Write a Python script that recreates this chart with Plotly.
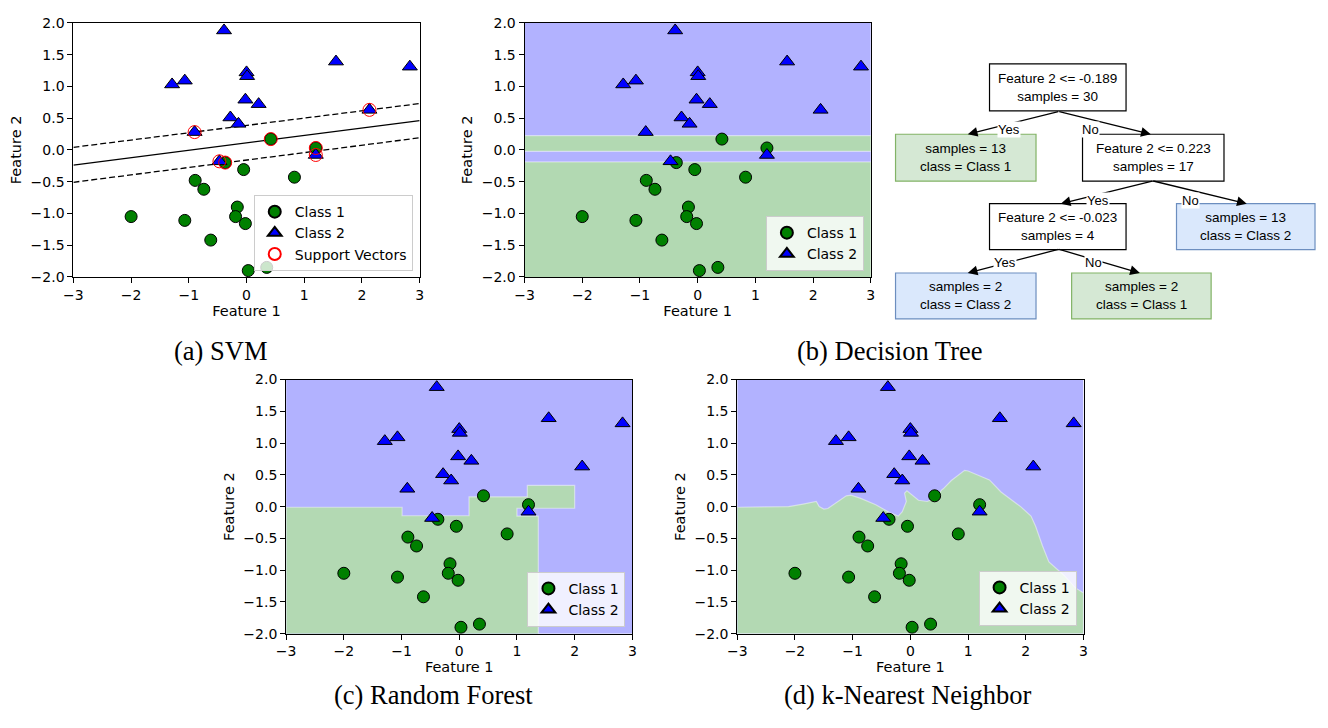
import plotly.graph_objects as go

# the page keeps 8px around the figure; this size fits the 1328x728 window
OFF = 8
W, H = 1312, 704

# ---------------- data ----------------
class1_x = [-2.00, -1.07, -0.89, -0.74, -0.62, -0.37, -0.05, -0.16, -0.19, -0.02, 0.03, 0.35, 0.42, 0.83, 1.20]
class1_y = [-1.05, -1.11, -0.48, -0.62, -1.42, -0.20, -0.31, -0.90, -1.05, -1.16, -1.90, -1.85, 0.17, -0.43, 0.03]

class2_x = [-1.29, -1.07, -0.39, -0.90, -0.28, -0.14, -0.02, 0.21, 0.00, 0.01, 1.55, 2.83, 2.13, -0.47, 1.20]
class2_y = [1.03, 1.09, 1.88, 0.28, 0.51, 0.41, 0.79, 0.72, 1.22, 1.16, 1.39, 1.31, 0.63, -0.18, -0.08]

sv_x = [-0.90, -0.47, -0.37, 0.42, 1.20, 1.20, 2.13]
sv_y = [0.28, -0.18, -0.20, 0.17, 0.03, -0.08, 0.63]

svm_line_x = [-3.0, 3.0]
svm_decision_y = [-0.24, 0.46]
svm_upper_y = [0.04, 0.73]
svm_lower_y = [-0.51, 0.19]

tree_thresholds = [-0.189, 0.223, -0.023]

rf_boundary_x = [-3.0, -3.0, -0.99, -0.99, 0.17, 0.17, 1.18, 1.18, 2.00, 2.00, 1.00, 1.00, 1.37, 1.37]
rf_boundary_y = [-2.0, -0.01, -0.01, -0.144, -0.144, 0.154, 0.154, 0.333, 0.333, -0.026, -0.026, -0.15, -0.15, -2.0]

knn_boundary_x = [-3.00, -2.11, -1.86, -1.63, -1.58, -1.50, -1.43, -1.29, -1.11, -1.03, -0.86, -0.60, -0.37,
                  -0.21, -0.14, -0.07, -0.10, -0.06, 0.03, 0.14, 0.29, 0.43, 0.54, 0.57, 0.71, 0.94, 1.00,
                  1.37, 1.57, 1.91, 2.09, 2.17, 2.29, 2.40, 2.66, 2.86, 3.00, 3.00, -3.00]
knn_boundary_y = [-0.01, 0.00, 0.04, 0.08, 0.00, -0.04, -0.03, 0.06, 0.17, 0.18, 0.13, 0.03, -0.09,
                  -0.15, -0.08, 0.08, 0.21, 0.25, 0.18, 0.10, 0.08, 0.13, 0.26, 0.28, 0.41, 0.57, 0.56,
                  0.42, 0.23, 0.00, -0.15, -0.31, -0.62, -0.87, -1.08, -1.28, -1.36, -2.00, -2.00]

tree_node_text = [
    "Feature 2 <= -0.189<br>samples = 30",
    "samples = 13<br>class = Class 1",
    "Feature 2 <= 0.223<br>samples = 17",
    "Feature 2 <= -0.023<br>samples = 4",
    "samples = 13<br>class = Class 2",
    "samples = 2<br>class = Class 2",
    "samples = 2<br>class = Class 1",
]
tree_node_kind = ["split", "class1", "split", "split", "class2", "class2", "class1"]
tree_edge_labels = ["Yes", "No", "Yes", "No", "Yes", "No"]

captions = ["(a) SVM", "(b) Decision Tree", "(c) Random Forest", "(d) k-Nearest Neighbor"]

# ---------------- layout helpers (window pixel -> paper) ----------------
def px(x):
    return (x - OFF) / W

def py(y):
    return 1 - (y - OFF) / H

BLUE_BG = "rgba(0,0,255,0.3)"
GREEN_BG = "rgba(0,128,0,0.3)"
EDGE = "rgba(255,255,255,0.45)"
FONT = "DejaVu Sans"

panels = {
    "a": (64, 414, 15, 275),
    "b": (520, 870, 15, 275),
    "c": (279, 629, 380, 640),
    "d": (735, 1085, 380, 640),
}
axis_ids = {"a": ("x", "y", ""), "b": ("x2", "y2", "2"), "c": ("x3", "y3", "3"), "d": ("x4", "y4", "4")}
legend_ids = {"a": "legend", "b": "legend2", "c": "legend3", "d": "legend4"}

fig = go.Figure()

def add_points(key, show_sv=False):
    xa, ya, _ = axis_ids[key]
    lg = legend_ids[key]
    fig.add_trace(go.Scatter(x=class1_x, y=class1_y, mode="markers", name="Class 1",
                             xaxis=xa, yaxis=ya, legend=lg,
                             marker=dict(symbol="circle", size=12, color="green",
                                         line=dict(color="black", width=1))))
    fig.add_trace(go.Scatter(x=class2_x, y=class2_y, mode="markers", name="Class 2",
                             xaxis=xa, yaxis=ya, legend=lg,
                             marker=dict(symbol="triangle-up", size=13, color="blue",
                                         line=dict(color="black", width=1))))
    if show_sv:
        fig.add_trace(go.Scatter(x=sv_x, y=sv_y, mode="markers", name="Support Vectors",
                                 xaxis=xa, yaxis=ya, legend=lg,
                                 marker=dict(symbol="circle-open", size=13, color="red",
                                             line=dict(color="red", width=1))))

# (a) SVM lines
for yy, dash in [(svm_upper_y, "6px,3px"), (svm_decision_y, "solid"), (svm_lower_y, "6px,3px")]:
    fig.add_trace(go.Scatter(x=svm_line_x, y=yy, mode="lines", showlegend=False, hoverinfo="skip",
                             xaxis="x", yaxis="y", line=dict(color="black", width=1.3, dash=dash)))
add_points("a", show_sv=True)

# (b) decision tree regions
t_root, t_right, t_mid = tree_thresholds
bands = [(t_right, 2.0, BLUE_BG), (t_mid, t_right, GREEN_BG), (t_root, t_mid, BLUE_BG), (-2.0, t_root, GREEN_BG)]
shapes = []
for y0, y1, col in bands:
    shapes.append(dict(type="rect", xref="x2", yref="y2", x0=-3, x1=3, y0=y0, y1=y1,
                       fillcolor=col, line=dict(width=0), layer="below"))
for t in tree_thresholds:
    shapes.append(dict(type="line", xref="x2", yref="y2", x0=-3, x1=3, y0=t, y1=t,
                       line=dict(color=EDGE, width=1.2), layer="below"))
add_points("b")

# (c) random forest regions
shapes.append(dict(type="rect", xref="x3", yref="y3", x0=-3, x1=3, y0=-2, y1=2,
                   fillcolor=BLUE_BG, line=dict(width=0), layer="below"))
fig.add_trace(go.Scatter(x=rf_boundary_x, y=rf_boundary_y, mode="lines", fill="toself",
                         fillcolor="rgb(179,217,179)", line=dict(color=EDGE, width=1.2),
                         showlegend=False, hoverinfo="skip", xaxis="x3", yaxis="y3"))
add_points("c")

# (d) kNN regions
shapes.append(dict(type="rect", xref="x4", yref="y4", x0=-3, x1=3, y0=-2, y1=2,
                   fillcolor=BLUE_BG, line=dict(width=0), layer="below"))
fig.add_trace(go.Scatter(x=knn_boundary_x, y=knn_boundary_y, mode="lines", fill="toself",
                         fillcolor="rgb(179,217,179)", line=dict(color=EDGE, width=1.2),
                         showlegend=False, hoverinfo="skip", xaxis="x4", yaxis="y4"))
add_points("d")

# axes
layout_axes = {}
for key, (l, r, t, b) in panels.items():
    _, _, suf = axis_ids[key]
    common = dict(showline=True, mirror=True, linecolor="black", linewidth=1, ticks="outside",
                  ticklen=5, tickwidth=1, tickcolor="black", showgrid=False, zeroline=False,
                  tickfont=dict(family=FONT, size=14, color="black"))
    layout_axes["xaxis" + suf] = dict(common, domain=[px(l), px(r)], range=[-3, 3], dtick=1, tick0=0,
                                      anchor="y" + suf,
                                      title=dict(text="Feature 1", standoff=2,
                                                 font=dict(family=FONT, size=14.5, color="black")))
    layout_axes["yaxis" + suf] = dict(common, domain=[py(b), py(t)], range=[-2, 2], dtick=0.5, tick0=0,
                                      tickformat=".1f", anchor="x" + suf,
                                      title=dict(text="Feature 2", standoff=5,
                                                 font=dict(family=FONT, size=14.5, color="black")))

# legends
legend_common = dict(bgcolor="rgba(255,255,255,0.8)", bordercolor="#cccccc", borderwidth=1,
                     font=dict(family=FONT, size=14, color="black"), xanchor="right",
                     yanchor="bottom", tracegroupgap=0, itemsizing="constant")
legends = {
    "legend": dict(legend_common, x=px(407), y=py(269)),
    "legend2": dict(legend_common, x=px(863), y=py(269)),
    "legend3": dict(legend_common, x=px(622), y=py(633)),
    "legend4": dict(legend_common, x=px(1078), y=py(632)),
}

# ---------------- decision tree diagram ----------------
node_boxes = [  # left, right, top, bottom (window px)
    (990, 1128, 57, 105),
    (895, 1037, 129, 177),
    (1084, 1227, 129, 177),
    (990, 1128, 200, 247),
    (1179, 1319, 200, 247),
    (895, 1037, 271, 318),
    (1073, 1214, 271, 318),
]
kind_style = {
    "split": ("white", "black"),
    "class1": ("#d5e8d4", "#82b366"),
    "class2": ("#dae8fc", "#6c8ebf"),
}
annotations = []
for (l, r, t, b), txt, kind in zip(node_boxes, tree_node_text, tree_node_kind):
    fill, border = kind_style[kind]
    shapes.append(dict(type="rect", xref="paper", yref="paper", x0=px(l), x1=px(r), y0=py(b), y1=py(t),
                       fillcolor=fill, line=dict(color=border, width=1.2)))
    annotations.append(dict(xref="paper", yref="paper", x=px((l + r) / 2), y=py((t + b) / 2),
                            text=txt, showarrow=False, xanchor="center", yanchor="middle",
                            font=dict(family="Liberation Sans", size=13.5, color="black")))

edges = [  # tail, head, label position (window px)
    ((1060, 106), (968, 129), (1022, 115)),
    ((1060, 106), (1153, 129), (1102, 115)),
    ((1155, 177), (1062, 200), (1112, 188)),
    ((1155, 177), (1250, 200), (1203, 188)),
    ((1060, 247), (968, 271), (1018, 260)),
    ((1060, 247), (1142, 271), (1105, 260)),
]
for (tail, head, lab), txt in zip(edges, tree_edge_labels):
    annotations.append(dict(xref="paper", yref="paper", x=px(head[0]), y=py(head[1]),
                            ax=tail[0] - head[0], ay=tail[1] - head[1], axref="pixel", ayref="pixel",
                            text="", showarrow=True, arrowhead=2, arrowsize=1.5, arrowwidth=1.3,
                            arrowcolor="black", standoff=0, startstandoff=0))
for (tail, head, lab), txt in zip(edges, tree_edge_labels):
    annotations.append(dict(xref="paper", yref="paper", x=px(lab[0]), y=py(lab[1]), text=txt,
                            showarrow=False, bgcolor="white", borderpad=0,
                            font=dict(family="Liberation Sans", size=13, color="black")))

# captions
caption_pos = [(213, 351), (889, 351), (428, 703), (907, 703)]
for txt, (cx, cy) in zip(captions, caption_pos):
    annotations.append(dict(xref="paper", yref="paper", x=px(cx), y=py(cy), text=txt, showarrow=False,
                            xanchor="center", yanchor="middle", borderpad=0,
                            font=dict(family="Liberation Serif", size=26.5, color="black")))

fig.update_layout(
    width=W, height=H, autosize=False,
    margin=dict(l=0, r=0, t=0, b=0, pad=0),
    paper_bgcolor="white", plot_bgcolor="rgba(0,0,0,0)",
    shapes=shapes, annotations=annotations,
    **layout_axes, **legends,
)

fig.write_html("out.html", config={"displayModeBar": False})
